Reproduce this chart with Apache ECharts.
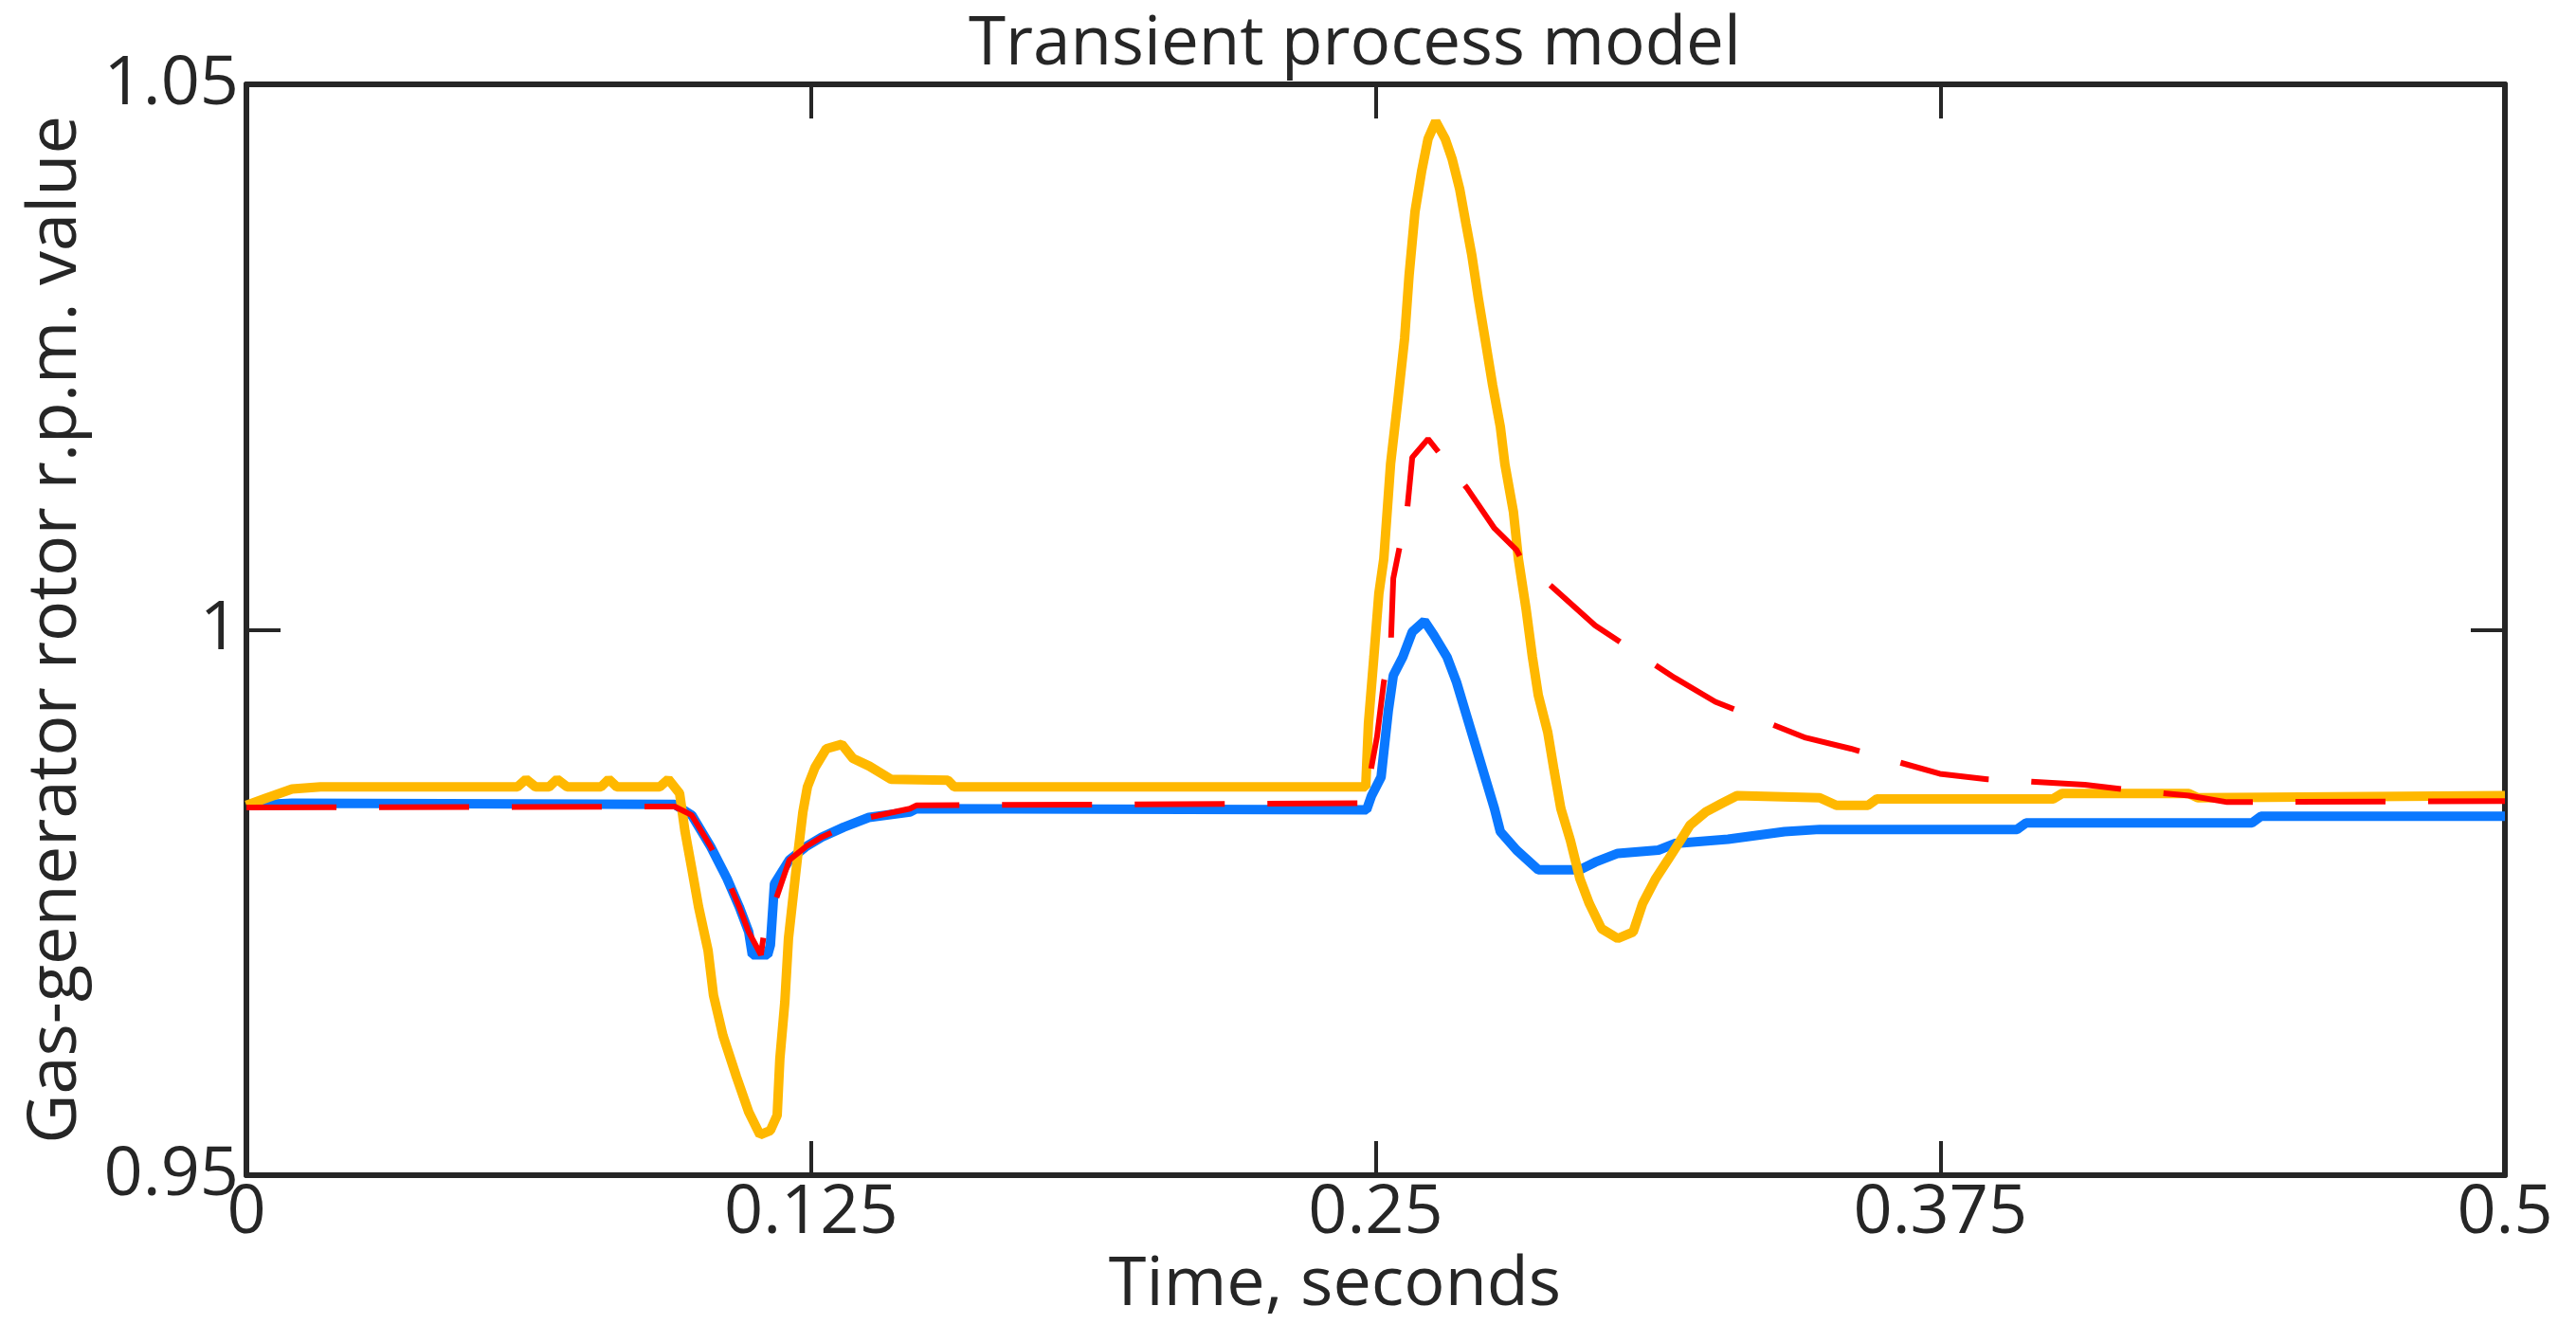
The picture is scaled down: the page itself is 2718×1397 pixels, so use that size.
<!DOCTYPE html>
<html>
<head>
<meta charset="utf-8">
<title>Transient process model</title>
<script src="https://cdn.jsdelivr.net/npm/echarts@6/dist/echarts.min.js"></script>
<style>
  html, body { margin: 0; padding: 0; background: #fff; }
  #chart { width: 2718px; height: 1397px; }
</style>
</head>
<body>
<div id="chart"></div>
<script>
// axis ticks
let timeTicks = [0, 0.125, 0.25, 0.375, 0.5];
let rpmTicks = [0.95, 1, 1.05];

// blue curve
let blueTime = [0, 0.0101, 0.0948, 0.0986, 0.1028, 0.1064, 0.1091, 0.1112, 0.1120, 0.1154,
  0.1160, 0.1169, 0.1181, 0.1202, 0.1238, 0.1274, 0.1322, 0.1378, 0.1469, 0.1483,
  0.2480, 0.2491, 0.2512, 0.2518, 0.2528, 0.2539, 0.2560, 0.2581, 0.2608, 0.2629,
  0.2658, 0.2679, 0.2700, 0.2721, 0.2742, 0.2763, 0.2776, 0.2812, 0.2860, 0.2952,
  0.2986, 0.3036, 0.3126, 0.3162, 0.3280, 0.3405, 0.3483, 0.3920, 0.3940, 0.4440,
  0.4460, 0.5];
let blueRpm = [0.9839, 0.9841, 0.9840, 0.9830, 0.9801, 0.9772, 0.9746, 0.9723, 0.9702, 0.9702,
  0.9711, 0.9767, 0.9775, 0.9789, 0.9801, 0.9810, 0.9819, 0.9828, 0.9833, 0.9836,
  0.9835, 0.9848, 0.9865, 0.9888, 0.9926, 0.9958, 0.9975, 0.9998, 1.0008, 0.9995,
  0.9975, 0.9952, 0.9923, 0.9894, 0.9865, 0.9836, 0.9815, 0.9798, 0.9780, 0.9780,
  0.9787, 0.9795, 0.9798, 0.9804, 0.9808, 0.9815, 0.9817, 0.9817, 0.9823, 0.9823,
  0.9829, 0.9829];

// yellow curve
let yellowTime = [0, 0.0046, 0.0101, 0.0164, 0.0600, 0.0619, 0.0640, 0.0670, 0.0688, 0.0710,
  0.0785, 0.0802, 0.0820, 0.0915, 0.0934, 0.0959, 0.0971, 0.0986, 0.1001, 0.1022,
  0.1034, 0.1055, 0.1085, 0.1112, 0.1137, 0.1160, 0.1175, 0.1181, 0.1192, 0.1200,
  0.1211, 0.1221, 0.1232, 0.1242, 0.1259, 0.1284, 0.1318, 0.1343, 0.1379, 0.1427,
  0.1553, 0.1567, 0.2478, 0.2484, 0.2496, 0.2507, 0.2518, 0.2533, 0.2549, 0.2564,
  0.2574, 0.2587, 0.2602, 0.2616, 0.2633, 0.2654, 0.2669, 0.2686, 0.2700, 0.2713,
  0.2728, 0.2744, 0.2759, 0.2776, 0.2786, 0.2805, 0.2816, 0.2833, 0.2847, 0.2860,
  0.2881, 0.2895, 0.2910, 0.2931, 0.2952, 0.2973, 0.3000, 0.3036, 0.3070, 0.3091,
  0.3120, 0.3147, 0.3175, 0.3196, 0.3231, 0.3267, 0.3300, 0.3483, 0.3520, 0.3590,
  0.3610, 0.4000, 0.4020, 0.4300, 0.4320, 0.5];
let yellowRpm = [0.9839, 0.9846, 0.9854, 0.9856, 0.9856, 0.9863, 0.9856, 0.9856, 0.9863, 0.9856,
  0.9856, 0.9863, 0.9856, 0.9856, 0.9863, 0.9850, 0.9815, 0.9781, 0.9746, 0.9706,
  0.9665, 0.9628, 0.9590, 0.9558, 0.9537, 0.9541, 0.9555, 0.9607, 0.9659, 0.9717,
  0.9758, 0.9795, 0.9833, 0.9856, 0.9874, 0.9891, 0.9895, 0.9882, 0.9875, 0.9863,
  0.9862, 0.9856, 0.9856, 0.9914, 0.9975, 1.0033, 1.0065, 1.0152, 1.0210, 1.0267,
  1.0325, 1.0383, 1.0421, 1.0450, 1.0466, 1.0450, 1.0432, 1.0404, 1.0372, 1.0343,
  1.0302, 1.0262, 1.0224, 1.0186, 1.0152, 1.0108, 1.0065, 1.0019, 0.9975, 0.9940,
  0.9906, 0.9871, 0.9836, 0.9807, 0.9772, 0.9749, 0.9726, 0.9717, 0.9723, 0.9749,
  0.9772, 0.9789, 0.9807, 0.9821, 0.9833, 0.9841, 0.9848, 0.9846, 0.9839, 0.9839,
  0.9845, 0.9845, 0.9850, 0.9850, 0.9846, 0.9848];

// red dashed curve
let redTime = [0, 0.0948, 0.0986, 0.1028, 0.1064, 0.1091, 0.1112, 0.1139, 0.1148, 0.1169,
  0.1202, 0.1238, 0.1274, 0.1322, 0.1378, 0.1469, 0.1483, 0.2476, 0.2503, 0.2518,
  0.2533, 0.2539, 0.2570, 0.2581, 0.2616, 0.2702, 0.2763, 0.2812, 0.2826, 0.2889,
  0.2986, 0.3162, 0.3252, 0.3452, 0.3552, 0.3749, 0.3854, 0.4070, 0.4169, 0.4301,
  0.4385, 0.5];
let redRpm = [0.9837, 0.9838, 0.9830, 0.9801, 0.9772, 0.9746, 0.9723, 0.9702, 0.9728, 0.9749,
  0.9789, 0.9801, 0.9810, 0.9819, 0.9828, 0.9836, 0.9839, 0.9841, 0.9902, 0.9952,
  0.9980, 1.0047, 1.0111, 1.0158, 1.0175, 1.0130, 1.0093, 1.0073, 1.0062, 1.0040,
  1.0004, 0.9956, 0.9934, 0.9901, 0.9891, 0.9868, 0.9863, 0.9858, 0.9853, 0.9848,
  0.9842, 0.9843];

function pairs(xs, ys) {
  let out = [];
  for (let i = 0; i < xs.length; i++) {
    out.push([xs[i], ys[i]]);
  }
  return out;
}

let font = "'Open Sans', 'Noto Sans', sans-serif";
let ink = "#262626";

function frameAxis(extra) {
  let axis = {
    type: "value",
    axisLine: { show: true, onZero: false, lineStyle: { color: ink, width: 6 } },
    axisTick: { show: true, inside: true, length: 36, lineStyle: { color: ink, width: 4 } },
    splitLine: { show: false },
    axisLabel: { show: false }
  };
  return Object.assign(axis, extra);
}

let chartsOptions = {
  animation: false,
  backgroundColor: "#fff",
  title: {
    text: "Transient process model",
    left: 1022,
    top: 12,
    padding: 0,
    textStyle: { fontFamily: font, fontSize: 71, fontWeight: "normal", color: ink }
  },
  grid: {
    left: 260,
    right: 75,
    top: 89,
    bottom: 157,
    containLabel: false,
    outerBoundsMode: "none"
  },
  xAxis: [
    frameAxis({
      position: "bottom",
      min: timeTicks[0],
      max: timeTicks[timeTicks.length - 1],
      interval: timeTicks[1] - timeTicks[0],
      name: "Time, seconds",
      nameLocation: "middle",
      nameGap: 58,
      nameTextStyle: { fontFamily: font, fontSize: 72, color: ink, padding: [0, 86, 0, 0] },
      axisLabel: {
        show: true,
        margin: 4,
        fontFamily: font,
        fontSize: 72,
        color: ink,
        formatter: function (v) { return String(+v.toFixed(3)); }
      }
    }),
    frameAxis({
      position: "top",
      min: timeTicks[0],
      max: timeTicks[timeTicks.length - 1],
      interval: timeTicks[1] - timeTicks[0]
    })
  ],
  yAxis: [
    frameAxis({
      position: "left",
      min: rpmTicks[0],
      max: rpmTicks[rpmTicks.length - 1],
      interval: 0.05,
      name: "Gas-generator rotor r.p.m. value",
      nameLocation: "middle",
      nameGap: 165,
      nameTextStyle: { fontFamily: font, fontSize: 72, color: ink },
      axisLabel: {
        show: true,
        margin: 8,
        fontFamily: font,
        fontSize: 72,
        color: ink,
        formatter: function (v) { return String(+v.toFixed(3)); }
      }
    }),
    frameAxis({
      position: "right",
      min: rpmTicks[0],
      max: rpmTicks[rpmTicks.length - 1],
      interval: 0.05
    })
  ],
  series: [
    {
      name: "blue",
      type: "line",
      showSymbol: false,
      xAxisIndex: 0,
      yAxisIndex: 0,
      lineStyle: { color: "#0a78ff", width: 10 },
      itemStyle: { color: "#0a78ff" },
      data: pairs(blueTime, blueRpm)
    },
    {
      name: "yellow",
      type: "line",
      showSymbol: false,
      xAxisIndex: 0,
      yAxisIndex: 0,
      lineStyle: { color: "#ffb800", width: 10 },
      itemStyle: { color: "#ffb800" },
      data: pairs(yellowTime, yellowRpm)
    },
    {
      name: "red",
      type: "line",
      showSymbol: false,
      xAxisIndex: 0,
      yAxisIndex: 0,
      lineStyle: { color: "#ff0000", width: 6, type: [95, 45] },
      itemStyle: { color: "#ff0000" },
      data: pairs(redTime, redRpm)
    }
  ]
};

let dataCharts = echarts.init(document.getElementById("chart"));
dataCharts.setOption(chartsOptions);
</script>
</body>
</html>
